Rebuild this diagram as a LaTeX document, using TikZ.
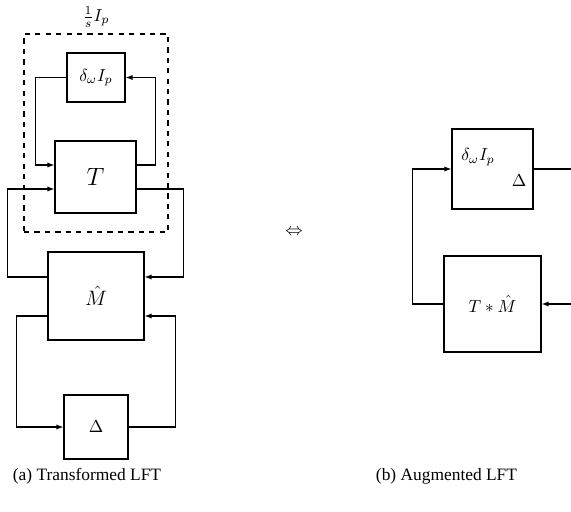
\documentclass[tikz,border=0pt]{standalone}
\usepackage{amsmath}
\usepackage{fontspec}
\setmainfont{Liberation Serif}
\usetikzlibrary{arrows.meta,calc}

\tikzset{
  blk/.style 2 args={draw, line width=0.7pt, minimum width=#1*0.575pt, minimum height=#2*0.575pt, inner sep=0pt},
  sig/.style={line width=0.7pt},
  sigin/.style={line width=0.7pt, -{Latex[length=4pt,width=3pt]}}
}

\begin{document}
\begin{tikzpicture}[x=0.575pt,y=-0.575pt]
        \useasboundingbox (0,0) rectangle (571,512);
        \clip (0,0) rectangle (571,512);
        % (a) Transformed LFT
        \node[blk={58}{49}] (dw) at (96,77.5) {$\delta_\omega I_p$};
        \node[blk={81}{72}] (T) at (95.5,177) {\Large $T$};
        \node[blk={96}{88}] (M) at (96,296) {\large $\hat{M}$};
        \node[blk={64}{64}] (D) at (96,427) {$\Delta$};
        \node[draw, dashed, line width=0.7pt, minimum width=144*0.575pt, minimum height=198*0.575pt] (intg) at (96,133) {};
        \node (intglbl) at (96,17) {$\frac{1}{s}I_p$};
        % inner loop T <-> delta
        \draw[sigin] (dw.west) -- ++(-31,0) |- ($(T.west)+(0,-12)$);
        \draw[sigin] ($(T.east)+(0,-12)$) -- ++(19,0) |- (dw.east);
        % T <-> Mhat
        \draw[sigin] ($(M.west)+(0,-19)$) -- ++(-40,0) |- ($(T.west)+(0,12)$);
        \draw[sigin] ($(T.east)+(0,12)$) -- ++(47,0) |- ($(M.east)+(0,-19)$);
        % Mhat <-> Delta
        \draw[sigin] ($(M.west)+(0,20)$) -- ++(-31,0) |- (D.west);
        \draw[sigin] (D.east) -- ++(47,0) |- ($(M.east)+(0,20)$);
        \node (capa) at (87,476) {(a) Transformed LFT};
        % equivalence
        \node (equiv) at (294,232) {$\Leftrightarrow$};
        % (b) Augmented LFT
        \node[blk={81}{80}] (aug) at (492.5,169) {};
        \node (auglbl) at (478,157) {$\delta_\omega I_p$};
        \node (augD) at (519,181) {$\Delta$};
        \node[blk={97}{96}] (TM) at (492.5,304) {$T * \hat{M}$};
        \coordinate (outr) at (590,169);
        \coordinate (inr) at (590,304);
        \draw[sigin] (TM.west) -- ++(-31,0) |- (aug.west);
        \draw[sig] (aug.east) -- (outr);
        \draw[sigin] (inr) -- (TM.east);
        \node (capb) at (446.5,476) {(b) Augmented LFT};
    \end{tikzpicture}
\end{document}
